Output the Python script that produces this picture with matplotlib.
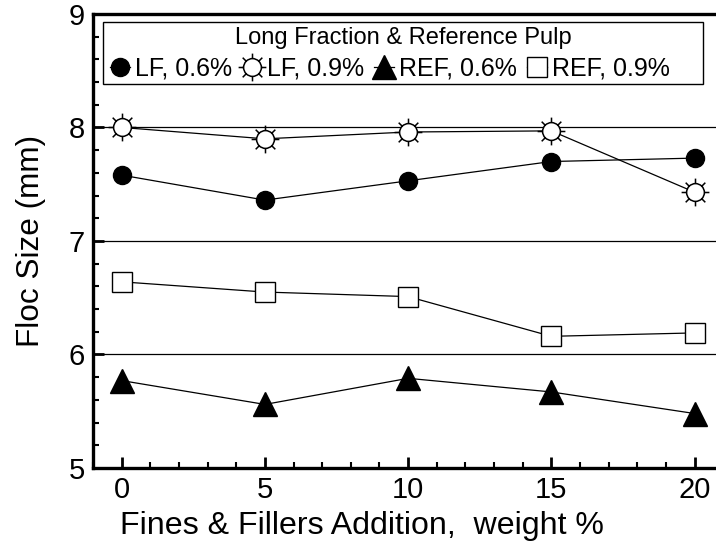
import numpy as np
import matplotlib
matplotlib.use("Agg")
import matplotlib.pyplot as plt
from matplotlib.path import Path
from matplotlib.patches import Rectangle
from matplotlib.ticker import MultipleLocator

plt.rcParams['font.family'] = ['Liberation Sans', 'DejaVu Sans']

x = [0, 5, 10, 15, 20]
lf_06 = [7.58, 7.36, 7.53, 7.70, 7.73]
lf_09 = [8.00, 7.90, 7.96, 7.97, 7.43]
ref_06 = [5.77, 5.56, 5.79, 5.67, 5.48]
ref_09 = [6.64, 6.55, 6.51, 6.16, 6.19]
labels = ["LF, 0.6%", "LF, 0.9%", "REF, 0.6%", "REF, 0.9%"]
legend_title = "Long Fraction & Reference Pulp"
xlabel = "Fines & Fillers Addition,  weight %"
ylabel = "Floc Size (mm)"

# sun marker: circle plus 8 rays
r0 = 0.64
circ = Path.circle((0, 0), r0)
verts = list(circ.vertices)
codes = list(circ.codes)
for ang in np.arange(0, 360, 45):
    a = np.deg2rad(ang)
    verts += [(r0*np.cos(a), r0*np.sin(a)), (1.0*np.cos(a), 1.0*np.sin(a))]
    codes += [Path.MOVETO, Path.LINETO]
sun = Path(verts, codes)

fig = plt.figure(figsize=(7.16, 5.58), dpi=100)
ax = fig.add_axes([0.130, 0.1613, 0.870, 0.8137])

lw = 0.9
ax.plot(x, lf_06, color='black', lw=lw, marker='o', ms=13, mfc='black', mec='black', label=labels[0], zorder=3)
ax.plot(x, lf_09, color='black', lw=lw, marker=sun, ms=20, mfc='white', mec='black', mew=1.1, label=labels[1], zorder=3)
ax.plot(x, ref_06, color='black', lw=lw, marker='^', ms=17, mfc='black', mec='black', label=labels[2], zorder=3)
ax.plot(x, ref_09, color='black', lw=lw, marker='s', ms=14.5, mfc='white', mec='black', mew=1.0, label=labels[3], zorder=2)

ax.set_xlim(-1.0, 20.75)
ax.set_ylim(5, 9)
ax.xaxis.set_major_locator(MultipleLocator(5))
ax.xaxis.set_minor_locator(MultipleLocator(1))
ax.yaxis.set_major_locator(MultipleLocator(1))
ax.yaxis.set_minor_locator(MultipleLocator(0.2))

for yv in [6, 7, 8]:
    ax.axhline(yv, color='black', lw=0.9, zorder=1)

ax.spines['right'].set_visible(False)
for s in ['left', 'bottom', 'top']:
    ax.spines[s].set_linewidth(2.4)

ax.tick_params(axis='both', which='major', direction='in', length=8, width=2, labelsize=21, pad=6)
ax.tick_params(axis='both', which='minor', direction='in', length=4, width=1.5)
ax.tick_params(axis='x', which='both', top=False)
ax.tick_params(axis='y', which='both', right=False)

ax.set_xlabel(xlabel, fontsize=23.1, labelpad=7)
ax.xaxis.set_label_coords(0.432, -0.095)
ax.set_ylabel(ylabel, fontsize=22.7, labelpad=16)

# legend frame and title
ax.add_patch(Rectangle((0.016, 0.846), 0.963, 0.136, transform=ax.transAxes,
                       fill=True, facecolor='white', edgecolor='black', lw=1.0, zorder=4))
ax.text(0.4976, 0.947, legend_title, transform=ax.transAxes, ha='center', va='center',
        fontsize=17, zorder=6)

leg = ax.legend(loc='center left', bbox_to_anchor=(0.0273, 0.879),
                ncol=4, fontsize=18, frameon=False,
                handlelength=0.8, handletextpad=0.2, columnspacing=0.4,
                borderpad=0, borderaxespad=0)
leg.set_zorder(7)

fig.savefig("out.png", dpi=100)
